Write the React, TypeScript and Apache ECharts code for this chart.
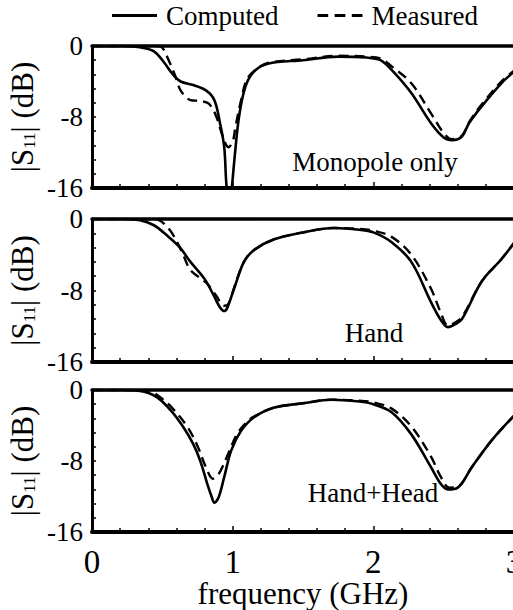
import React, { useEffect, useRef } from "react";
import * as echarts from "echarts";

// Panel 1: Monopole only
const FREQ_C1 = [0, 0.2, 0.34, 0.44, 0.51, 0.57, 0.63, 0.72, 0.81, 0.87, 0.91, 0.94, 0.955, 0.975, 0.995, 1.01, 1.045, 1.09, 1.15, 1.25, 1.5, 1.75, 1.95, 2.05, 2.13, 2.27, 2.41, 2.5, 2.56, 2.63, 2.68, 2.77, 2.91, 3.0];
const S11_C1 = [0, 0, -0.15, -0.6, -1.8, -3.1, -4.0, -4.4, -5.0, -6.1, -8.7, -11.4, -15.5, -18, -15.8, -13.2, -8.0, -4.6, -2.9, -2.0, -1.6, -1.2, -1.3, -1.6, -2.7, -5.3, -8.7, -10.3, -10.6, -10.2, -8.7, -6.8, -4.2, -2.9];
const FREQ_M1 = [0, 0.3, 0.46, 0.5, 0.545, 0.59, 0.63, 0.7, 0.77, 0.83, 0.88, 0.93, 0.97, 1.0, 1.02, 1.06, 1.1, 1.16, 1.25, 1.5, 1.75, 1.95, 2.05, 2.13, 2.27, 2.41, 2.5, 2.56, 2.63, 2.68, 2.77, 2.91, 3.0];
const S11_M1 = [0, 0, 0, -0.2, -1.6, -3.3, -5.0, -6.1, -6.2, -6.5, -7.8, -10.2, -11.4, -10.8, -9.1, -6.1, -3.8, -2.7, -1.9, -1.5, -1.1, -1.2, -1.4, -2.3, -4.2, -7.6, -9.8, -10.5, -10.1, -8.6, -6.6, -4.0, -2.8];

// Panel 2: Hand
const FREQ_C2 = [0, 0.2, 0.34, 0.44, 0.53, 0.62, 0.7, 0.8, 0.87, 0.91, 0.94, 0.96, 1.01, 1.08, 1.15, 1.29, 1.5, 1.72, 1.9, 2.0, 2.13, 2.27, 2.41, 2.48, 2.53, 2.58, 2.63, 2.77, 2.91, 3.0];
const S11_C2 = [0, 0, -0.15, -0.7, -1.8, -3.1, -4.8, -6.7, -8.7, -9.9, -10.3, -10.0, -7.8, -4.8, -3.5, -2.3, -1.5, -1.0, -1.2, -1.5, -2.6, -4.8, -9.3, -11.3, -12.1, -11.8, -11.2, -7.0, -4.5, -2.7];
const FREQ_M2 = [0, 0.3, 0.45, 0.51, 0.57, 0.64, 0.7, 0.81, 0.88, 0.94, 0.97, 1.01, 1.08, 1.15, 1.29, 1.5, 1.72, 1.9, 2.0, 2.13, 2.27, 2.41, 2.48, 2.53, 2.58, 2.63, 2.77, 2.91, 3.0];
const S11_M2 = [0, 0, 0, -0.5, -1.6, -3.7, -5.7, -7.1, -8.5, -9.7, -9.5, -7.7, -4.8, -3.5, -2.3, -1.5, -1.0, -1.1, -1.3, -2.0, -4.0, -7.8, -10.5, -11.9, -11.6, -11.0, -7.0, -4.5, -2.7];

// Panel 3: Hand+Head
const FREQ_C3 = [0, 0.2, 0.34, 0.46, 0.56, 0.65, 0.72, 0.77, 0.82, 0.85, 0.87, 0.9, 0.94, 0.99, 1.06, 1.15, 1.29, 1.5, 1.7, 1.9, 2.0, 2.13, 2.27, 2.41, 2.48, 2.53, 2.6, 2.7, 2.84, 3.0];
const S11_C3 = [0, 0, -0.1, -0.8, -2.3, -4.2, -6.1, -8.0, -10.6, -12.0, -12.7, -12.1, -9.8, -6.8, -4.6, -3.1, -2.0, -1.5, -1.1, -1.3, -1.6, -2.5, -5.0, -8.7, -10.6, -11.2, -11.0, -8.7, -5.7, -2.9];
const FREQ_M3 = [0, 0.3, 0.42, 0.5, 0.58, 0.68, 0.75, 0.81, 0.86, 0.9, 0.96, 1.03, 1.1, 1.15, 1.29, 1.5, 1.7, 1.9, 2.0, 2.13, 2.27, 2.41, 2.48, 2.54, 2.6, 2.7, 2.84, 3.0];
const S11_M3 = [0, 0, -0.2, -1.0, -2.2, -4.2, -6.3, -8.7, -10.0, -9.5, -7.5, -5.0, -3.6, -3.0, -2.0, -1.5, -1.1, -1.2, -1.4, -2.1, -4.1, -7.5, -9.8, -11.0, -10.9, -8.7, -5.7, -2.9];

const PANEL_LABELS = ["Monopole only", "Hand", "Hand+Head"];
const SERIES_NAMES = ["Computed", "Measured"];
const X_TICKS = [0, 1, 2, 3];
const Y_TICKS = [-16, -8, 0];

const FONT = "Liberation Serif";

const zip = (xs: number[], ys: number[]) => xs.map((x, i) => [x, ys[i]]);

export default function App() {
  const ref = useRef<HTMLDivElement>(null);
  useEffect(() => {
    if (!ref.current) return;
    const chart = echarts.init(ref.current, undefined, { renderer: "svg" });
    const grids = [
      { left: 92, top: 46, width: 422, height: 142, outerBoundsMode: "none", containLabel: false },
      { left: 92, top: 219, width: 422, height: 143, outerBoundsMode: "none", containLabel: false },
      { left: 92, top: 390, width: 422, height: 142, outerBoundsMode: "none", containLabel: false },
    ];
    const panels = [
      [zip(FREQ_C1, S11_C1), zip(FREQ_M1, S11_M1)],
      [zip(FREQ_C2, S11_C2), zip(FREQ_M2, S11_M2)],
      [zip(FREQ_C3, S11_C3), zip(FREQ_M3, S11_M3)],
    ];
    const xAxes: any[] = [];
    const yAxes: any[] = [];
    const series: any[] = [];
    grids.forEach((_, i) => {
      const last = i === grids.length - 1;
      xAxes.push({
        type: "value",
        gridIndex: i,
        position: "bottom",
        min: X_TICKS[0],
        max: X_TICKS[X_TICKS.length - 1],
        interval: 1,
        axisLine: { show: true, onZero: false, lineStyle: { color: "#000", width: 4 } },
        axisTick: { show: true, inside: true, length: 6, lineStyle: { color: "#000", width: 1.5 } },
        minorTick: { show: true, splitNumber: 5, length: 4, lineStyle: { color: "#000", width: 1.5 } },
        splitLine: { show: false },
        minorSplitLine: { show: false },
        axisLabel: { show: last, color: "#000", fontFamily: FONT, fontSize: 33, lineHeight: 30, margin: 15, hideOverlap: false },
        name: last ? "frequency (GHz)" : "",
        nameLocation: "middle",
        nameGap: 47,
        nameMoveOverlap: false,
        nameTextStyle: { color: "#000", fontFamily: FONT, fontSize: 31, lineHeight: 28 },
      });
      xAxes.push({
        type: "value",
        gridIndex: i,
        position: "top",
        min: X_TICKS[0],
        max: X_TICKS[X_TICKS.length - 1],
        axisLine: { show: true, onZero: false, lineStyle: { color: "#000", width: 3.5 } },
        axisTick: { show: false },
        axisLabel: { show: false },
        splitLine: { show: false },
      });
      yAxes.push({
        type: "value",
        gridIndex: i,
        min: Y_TICKS[0],
        max: Y_TICKS[Y_TICKS.length - 1],
        interval: 8,
        axisLine: { show: true, onZero: false, lineStyle: { color: "#000", width: 3 } },
        axisTick: { show: true, inside: true, length: 4, lineStyle: { color: "#000", width: 1.5 } },
        minorTick: { show: true, splitNumber: 5, length: 4, lineStyle: { color: "#000", width: 1.5 } },
        splitLine: { show: false },
        axisLabel: { color: "#000", fontFamily: FONT, fontSize: 27, margin: 9 },
        name: "|S{sub|11}| (dB)",
        nameLocation: "middle",
        nameRotate: 90,
        nameGap: 54,
        nameMoveOverlap: false,
        nameTextStyle: {
          color: "#000",
          fontFamily: FONT,
          fontSize: 31,
          rich: { sub: { fontFamily: FONT, fontSize: 17, color: "#000", verticalAlign: "bottom", lineHeight: 17 } },
        },
      });
      panels[i].forEach((data, k) => {
        series.push({
          type: "line",
          name: SERIES_NAMES[k],
          xAxisIndex: 2 * i,
          yAxisIndex: i,
          data,
          symbol: "none",
          showSymbol: false,
          smooth: 0.35,
          clip: true,
          lineStyle: k === 0 ? { color: "#000", width: 2.6 } : { color: "#000", width: 2.4, type: [10, 6] },
          itemStyle: { color: "#000" },
          z: k === 0 ? 3 : 2,
        });
      });
    });
    const labelPos = [
      [375, 162],
      [374, 333],
      [373, 493],
    ];
    chart.setOption({
      animation: false,
      backgroundColor: "#fff",
      legend: {
        data: [
          { name: SERIES_NAMES[0], icon: "path://M0,0H45V3H0Z" },
          { name: SERIES_NAMES[1], icon: "path://M0,0H10V3H0Z M16,0H26V3H16Z M32,0H42V3H32Z" },
        ],
        left: 107,
        top: -3,
        itemWidth: 45,
        itemHeight: 14,
        itemGap: 39,
        textStyle: { color: "#000", fontFamily: FONT, fontSize: 27, padding: [0, 0, 0, 4] },
      },
      grid: grids,
      xAxis: xAxes,
      yAxis: yAxes,
      series,
      graphic: PANEL_LABELS.map((t, i) => ({
        type: "text",
        x: labelPos[i][0],
        y: labelPos[i][1],
        style: { text: t, fill: "#000", fontFamily: FONT, fontSize: 27, align: "center", verticalAlign: "middle" },
      })),
    });
    return () => chart.dispose();
  }, []);
  return <div ref={ref} style={{ position: "absolute", left: 0, top: 0, width: 513, height: 610 }} />;
}
